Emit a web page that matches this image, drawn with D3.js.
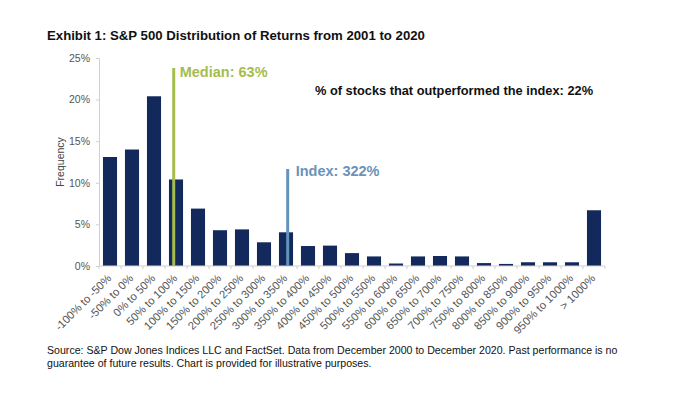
<!DOCTYPE html>
<html>
<head>
<meta charset="utf-8">
<script src="https://cdn.jsdelivr.net/npm/d3@7/dist/d3.min.js"></script>
<style>
  body { margin: 0; background: #fff; }
  svg { display: block; font-family: "Liberation Sans", Arial, sans-serif; }
</style>
</head>
<body>
<div class="container"></div>
<script>
// return buckets and the share of stocks in each one (%)
var categories = ['-100% to -50%', '-50% to 0%', '0% to 50%', '50% to 100%', '100% to 150%',
  '150% to 200%', '200% to 250%', '250% to 300%', '300% to 350%', '350% to 400%',
  '400% to 450%', '450% to 500%', '500% to 550%', '550% to 600%', '600% to 650%',
  '650% to 700%', '700% to 750%', '750% to 800%', '800% to 850%', '850% to 900%',
  '900% to 950%', '950% to 1000%', '> 1000%'];
var frequency = [13.1, 14.0, 20.4, 10.4, 6.9, 4.3, 4.4, 2.85, 4.05, 2.4, 2.45, 1.55, 1.15,
  0.3, 1.15, 1.2, 1.15, 0.35, 0.25, 0.45, 0.45, 0.45, 6.7];
var yTicks = [0, 5, 10, 15, 20, 25];

// markers: return value and label
var median = 63;
var indexReturn = 322;
var outperformed = 22;

var width = 690, height = 400;
var margin = {left: 99, right: 85, top: 58, bottom: 134};

var svg = d3.select('.container')
  .append('svg')
  .attr('width', width)
  .attr('height', height);

var x = d3.scaleBand()
  .domain(categories)
  .range([margin.left, width - margin.right])
  .paddingInner(0.36)
  .paddingOuter(0.18);

var y = d3.scaleLinear()
  .domain([0, 25])
  .range([height - margin.bottom, margin.top]);

// return value -> x position (bucket width is 50 points)
var ret = d3.scaleLinear()
  .domain([-100, 1000])
  .range([margin.left + 3, margin.left + 3 + x.step() * 22]);

// title
svg.append('text')
  .attr('x', 47).attr('y', 40)
  .attr('font-size', 13.2).attr('font-weight', 'bold')
  .attr('fill', '#111')
  .text('Exhibit 1: S&P 500 Distribution of Returns from 2001 to 2020');

// y axis
var yAxis = svg.append('g')
  .attr('transform', 'translate(' + margin.left + ',0)')
  .call(d3.axisLeft(y).tickValues(yTicks).tickFormat(d => d + '%').tickSize(3).tickPadding(6));
yAxis.select('.domain').attr('stroke', '#d0d0d0');
yAxis.selectAll('.tick line').attr('stroke', '#d0d0d0');
yAxis.selectAll('text').attr('font-size', 10.5).attr('fill', '#555').attr('font-family', null);

svg.append('text')
  .attr('transform', 'translate(64,' + ((margin.top + height - margin.bottom) / 2) + ') rotate(-90)')
  .attr('text-anchor', 'middle')
  .attr('font-size', 10.5).attr('fill', '#444')
  .text('Frequency');

// bars
svg.selectAll('rect.bar')
  .data(frequency)
  .enter().append('rect')
  .attr('class', 'bar')
  .attr('x', (d, i) => x(categories[i]))
  .attr('width', x.bandwidth())
  .attr('y', d => y(d))
  .attr('height', d => y(0) - y(d))
  .attr('fill', '#13295c');

// x axis with ticks between bars
var x0 = y(0);
svg.append('line')
  .attr('x1', margin.left).attr('x2', width - margin.right)
  .attr('y1', x0).attr('y2', x0)
  .attr('stroke', '#d0d0d0');
svg.selectAll('line.xtick')
  .data(d3.range(categories.length + 1))
  .enter().append('line')
  .attr('class', 'xtick')
  .attr('x1', i => margin.left + i * x.step())
  .attr('x2', i => margin.left + i * x.step())
  .attr('y1', x0).attr('y2', x0 + 3)
  .attr('stroke', '#d0d0d0');

svg.selectAll('text.xlab')
  .data(categories)
  .enter().append('text')
  .attr('class', 'xlab')
  .attr('text-anchor', 'end')
  .attr('font-size', 11.2).attr('fill', '#555')
  .attr('transform', d => 'translate(' + (x(d) + x.bandwidth() / 2 + 2) + ',' + (x0 + 13) + ') rotate(-45)')
  .text(d => d);

// median line
svg.append('line')
  .attr('x1', ret(median)).attr('x2', ret(median))
  .attr('y1', 68).attr('y2', x0)
  .attr('stroke', '#a5bd4d').attr('stroke-width', 3);
svg.append('text')
  .attr('x', ret(median) + 6).attr('y', 77)
  .attr('font-size', 14.5).attr('font-weight', 'bold')
  .attr('fill', '#a5bd4d')
  .text('Median: ' + median + '%');

// index line
svg.append('line')
  .attr('x1', ret(indexReturn)).attr('x2', ret(indexReturn))
  .attr('y1', 169).attr('y2', x0)
  .attr('stroke', '#6493be').attr('stroke-width', 3);
svg.append('text')
  .attr('x', ret(indexReturn) + 8).attr('y', 176)
  .attr('font-size', 14.5).attr('font-weight', 'bold')
  .attr('fill', '#6a93bb')
  .text('Index: ' + indexReturn + '%');

svg.append('text')
  .attr('x', 315).attr('y', 95)
  .attr('font-size', 12.8).attr('font-weight', 'bold')
  .attr('fill', '#111')
  .text('% of stocks that outperformed the index: ' + outperformed + '%');

// source note
var note = svg.append('text')
  .attr('font-size', 10.6).attr('fill', '#111');
note.append('tspan').attr('x', 47).attr('y', 354)
  .text('Source: S&P Dow Jones Indices LLC and FactSet. Data from December 2000 to December 2020. Past performance is no');
note.append('tspan').attr('x', 47).attr('y', 367)
  .text('guarantee of future results. Chart is provided for illustrative purposes.');
</script>
</body>
</html>
